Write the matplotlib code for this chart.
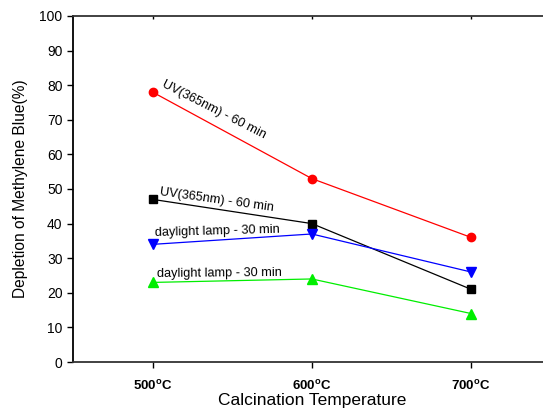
import matplotlib
matplotlib.use('Agg')
import matplotlib.pyplot as plt
from matplotlib.lines import TICKDOWN

plt.rcParams['font.family'] = ['Liberation Sans', 'DejaVu Sans']
plt.rcParams['mathtext.fontset'] = 'custom'
plt.rcParams['mathtext.rm'] = 'Liberation Sans:bold'
plt.rcParams['mathtext.bf'] = 'Liberation Sans:bold'

temps = [500, 600, 700]
temp_labels = [r'500$^{\rm o}$C', r'600$^{\rm o}$C', r'700$^{\rm o}$C']
uv_red = [78, 53, 36]
uv_black = [47, 40, 21]
day_blue = [34, 37, 26]
day_green = [23, 24, 14]

fig = plt.figure(figsize=(5.43, 4.09), dpi=100)
ax = fig.add_axes([0.1344, 0.1149, 0.880, 0.846])

ax.plot(temps, uv_red, color='red', lw=0.9, marker='o', ms=6)
ax.plot(temps, uv_black, color='black', lw=0.9, marker='s', ms=5.5)
ax.plot(temps, day_blue, color='blue', lw=0.9, marker='v', ms=7)
ax.plot(temps, day_green, color='#00ee00', lw=0.9, marker='^', ms=7)

# labels next to the lines
ax.text(505.5, 79.6, 'UV(365nm) - 60 min', rotation=-27, rotation_mode='anchor',
        fontsize=9.2, va='baseline', ha='left')
ax.text(504, 48.2, 'UV(365nm) - 60 min', rotation=-8, rotation_mode='anchor',
        fontsize=9.2, va='baseline', ha='left')
ax.text(501.5, 36.3, 'daylight lamp - 30 min', rotation=1.5, rotation_mode='anchor',
        fontsize=9.2, va='baseline', ha='left')
ax.text(503, 24.6, 'daylight lamp - 30 min', rotation=0.5, rotation_mode='anchor',
        fontsize=9.2, va='baseline', ha='left')

ax.set_xlim(450, 750)
ax.set_ylim(0, 100)
ax.set_yticks(range(0, 101, 10))
ax.set_xticks(temps)
ax.set_xticklabels(temp_labels, fontsize=9.5, fontweight='bold')
ax.tick_params(axis='y', labelsize=10, length=4, width=1, direction='out')
ax.tick_params(axis='x', length=4, width=1, direction='out', pad=8)
# tiny inward marks on the top border
ax.tick_params(axis='x', which='major', top=True, labeltop=False)
for t in ax.xaxis.get_major_ticks():
    t.tick2line.set_marker(TICKDOWN)
    t.tick2line.set_markersize(2)
for s in ax.spines.values():
    s.set_color('#333333')
    s.set_linewidth(1.3)
ax.spines['left'].set_color('black')

ax.set_xlabel('Calcination Temperature', fontsize=12.5, labelpad=0)
ax.set_ylabel('Depletion of Methylene Blue(%)', fontsize=11.2, labelpad=8)

fig.savefig('out.png', dpi=100)
